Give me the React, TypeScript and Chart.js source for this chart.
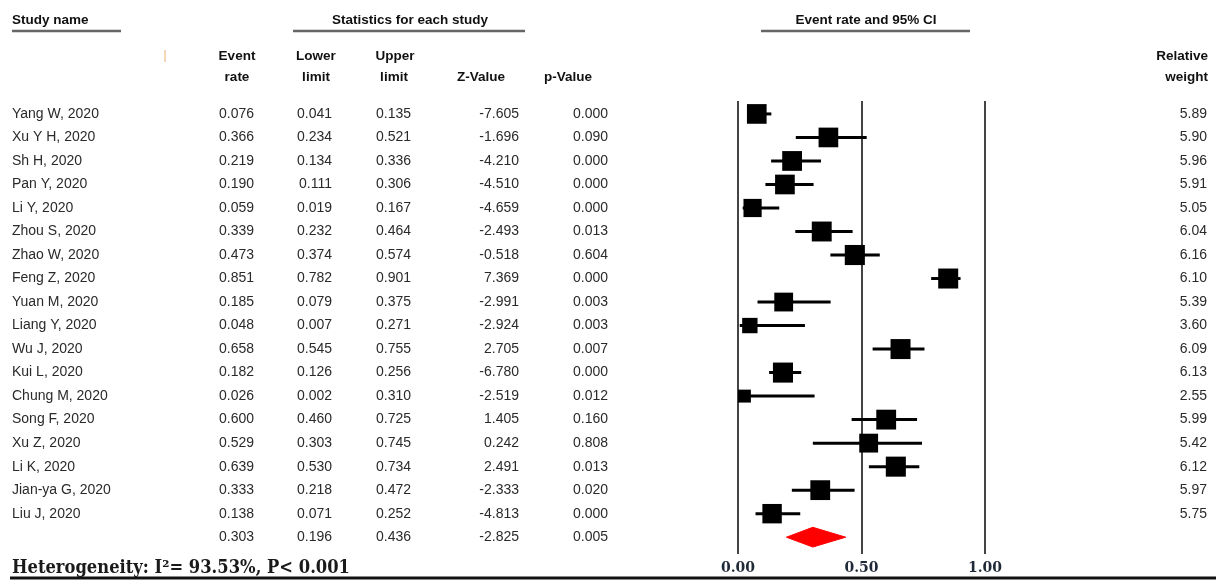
import React, { useEffect, useRef } from "react";
import { Chart, registerables } from "chart.js";

Chart.register(...registerables);

const studies = [
  "Yang W, 2020", "Xu Y H, 2020", "Sh H, 2020", "Pan Y, 2020", "Li Y, 2020", "Zhou S, 2020",
  "Zhao W, 2020", "Feng Z, 2020", "Yuan M, 2020", "Liang Y, 2020", "Wu J, 2020", "Kui L, 2020",
  "Chung M, 2020", "Song F, 2020", "Xu Z, 2020", "Li K, 2020", "Jian-ya G, 2020", "Liu J, 2020",
];
const eventRate = [0.076, 0.366, 0.219, 0.190, 0.059, 0.339, 0.473, 0.851, 0.185, 0.048, 0.658, 0.182, 0.026, 0.600, 0.529, 0.639, 0.333, 0.138];
const lowerLimit = [0.041, 0.234, 0.134, 0.111, 0.019, 0.232, 0.374, 0.782, 0.079, 0.007, 0.545, 0.126, 0.002, 0.460, 0.303, 0.530, 0.218, 0.071];
const upperLimit = [0.135, 0.521, 0.336, 0.306, 0.167, 0.464, 0.574, 0.901, 0.375, 0.271, 0.755, 0.256, 0.310, 0.725, 0.745, 0.734, 0.472, 0.252];
const zValue = [-7.605, -1.696, -4.210, -4.510, -4.659, -2.493, -0.518, 7.369, -2.991, -2.924, 2.705, -6.780, -2.519, 1.405, 0.242, 2.491, -2.333, -4.813];
const pValue = [0.000, 0.090, 0.000, 0.000, 0.000, 0.013, 0.604, 0.000, 0.003, 0.003, 0.007, 0.000, 0.012, 0.160, 0.808, 0.013, 0.020, 0.000];
const relWeight = [5.89, 5.90, 5.96, 5.91, 5.05, 6.04, 6.16, 6.10, 5.39, 3.60, 6.09, 6.13, 2.55, 5.99, 5.42, 6.12, 5.97, 5.75];

const pooledRate = 0.303;
const pooledLower = 0.196;
const pooledUpper = 0.436;
const pooledZ = -2.825;
const pooledP = 0.005;

const xTicks = [0, 0.5, 1];
const heterogeneityText = "Heterogeneity: I\u00B2= 93.53%, P< 0.001";

const TEXT = "#2a2a2a";
const SANS = "'Liberation Sans', Arial, sans-serif";

function fmt(v: number, d: number) {
  return v.toFixed(d);
}

const tablePlugin = {
  id: "tablePlugin",
  afterDraw(chart: any) {
    const ctx: CanvasRenderingContext2D = chart.ctx;
    const y = chart.scales.y;
    ctx.save();
    ctx.textBaseline = "middle";

    const txt = (s: string, x: number, yy: number, align: CanvasTextAlign, font: string, color = TEXT, maxW?: number) => {
      ctx.font = font;
      ctx.fillStyle = color;
      ctx.textAlign = align;
      if (maxW) ctx.fillText(s, x, yy, maxW);
      else ctx.fillText(s, x, yy);
    };

    const bold = `bold 13.5px ${SANS}`;
    const reg = `14px ${SANS}`;

    // top headers
    txt("Study name", 12, 20, "left", bold, "#111");
    txt("Statistics for each study", 410, 20, "center", bold, "#111");
    txt("Event rate and 95% CI", 866, 20, "center", bold, "#111");
    ctx.strokeStyle = "#666";
    ctx.lineWidth = 2.5;
    const ul = (a: number, b: number) => {
      ctx.beginPath();
      ctx.moveTo(a, 31);
      ctx.lineTo(b, 31);
      ctx.stroke();
    };
    ul(12, 121);
    ul(293, 525);
    ul(761, 970);

    // small orange mark
    ctx.strokeStyle = "#f2c9a0";
    ctx.lineWidth = 1.5;
    ctx.beginPath();
    ctx.moveTo(165, 50);
    ctx.lineTo(165, 62);
    ctx.stroke();

    // column headers
    const h1 = 56;
    const h2 = 77;
    txt("Event", 237, h1, "center", bold, "#111");
    txt("rate", 237, h2, "center", bold, "#111");
    txt("Lower", 316, h1, "center", bold, "#111");
    txt("limit", 316, h2, "center", bold, "#111");
    txt("Upper", 395, h1, "center", bold, "#111");
    txt("limit", 394, h2, "center", bold, "#111");
    txt("Z-Value", 481, h2, "center", bold, "#111");
    txt("p-Value", 568, h2, "center", bold, "#111");
    txt("Relative", 1208, h1, "right", bold, "#111");
    txt("weight", 1208, h2, "right", bold, "#111");

    // rows
    studies.forEach((s, i) => {
      const py = y.getPixelForValue(i);
      txt(s, 12, py, "left", reg);
      txt(fmt(eventRate[i], 3), 254, py, "right", reg);
      txt(fmt(lowerLimit[i], 3), 332, py, "right", reg);
      txt(fmt(upperLimit[i], 3), 411, py, "right", reg);
      txt(fmt(zValue[i], 3), 519, py, "right", reg);
      txt(fmt(pValue[i], 3), 608, py, "right", reg);
      txt(fmt(relWeight[i], 2), 1207, py, "right", reg);
    });
    const sy = y.getPixelForValue(studies.length);
    txt(fmt(pooledRate, 3), 254, sy, "right", reg);
    txt(fmt(pooledLower, 3), 332, sy, "right", reg);
    txt(fmt(pooledUpper, 3), 411, sy, "right", reg);
    txt(fmt(pooledZ, 3), 519, sy, "right", reg);
    txt(fmt(pooledP, 3), 608, sy, "right", reg);

    // heterogeneity
    ctx.textBaseline = "alphabetic";
    txt(heterogeneityText, 12, 573, "left", `bold 18px 'DejaVu Serif', 'Liberation Serif', serif`, "#1a1a1a", 338);

    // bottom rule
    ctx.strokeStyle = "#111";
    ctx.lineWidth = 3;
    ctx.beginPath();
    ctx.moveTo(10, 578);
    ctx.lineTo(1216, 578);
    ctx.stroke();
    ctx.restore();
  },
};

export default function App() {
  const ref = useRef<HTMLCanvasElement | null>(null);

  useEffect(() => {
    if (!ref.current) return;
    const n = studies.length;
    const ciSets = studies.map((s, i) => ({
      type: "line" as const,
      label: s,
      data: [
        { x: lowerLimit[i], y: i },
        { x: upperLimit[i], y: i },
      ],
      borderColor: "#000",
      borderWidth: 3,
      pointRadius: 0,
      showLine: true,
      fill: false,
      clip: false as any,
    }));
    const boxSet = {
      type: "scatter" as const,
      label: "boxes",
      data: eventRate.map((v, i) => ({ x: v, y: i })),
      pointStyle: "rect" as const,
      pointRadius: relWeight.map((w) => (8.1 * Math.sqrt(w)) / Math.SQRT2),
      backgroundColor: "#000",
      borderColor: "#000",
      borderWidth: 0,
      clip: false as any,
    };
    const dh = 0.42;
    const diamond = {
      type: "line" as const,
      label: "pooled",
      data: [
        { x: pooledLower, y: n },
        { x: pooledRate, y: n - dh },
        { x: pooledUpper, y: n },
        { x: pooledRate, y: n + dh },
        { x: pooledLower, y: n },
      ],
      borderColor: "#ff0000",
      backgroundColor: "#ff0000",
      borderWidth: 1,
      pointRadius: 0,
      showLine: true,
      fill: "shape" as any,
      tension: 0,
      clip: false as any,
    };

    const chart = new Chart(ref.current, {
      type: "scatter",
      data: { datasets: [...ciSets, boxSet, diamond] as any },
      options: {
        animation: false,
        responsive: true,
        maintainAspectRatio: false,
        layout: { padding: { left: 738, right: 235, top: 101, bottom: 0 } },
        plugins: { legend: { display: false }, tooltip: { enabled: false }, title: { display: false } },
        scales: {
          x: {
            type: "linear",
            min: 0,
            max: 1,
            afterBuildTicks: (scale: any) => {
              scale.ticks = xTicks.map((v) => ({ value: v }));
            },
            afterFit: (scale: any) => {
              scale.height = 32;
            },
            ticks: {
              callback: (v: any) => Number(v).toFixed(2),
              font: { family: "'DejaVu Serif', serif", size: 14, weight: "bold" },
              color: "#1f2937",
              padding: 6,
              maxRotation: 0,
            },
            grid: { color: "#444", lineWidth: 2, tickLength: 6, drawOnChartArea: true },
            border: { display: false },
          },
          y: {
            type: "linear",
            min: -0.55,
            max: 18.46,
            reverse: true,
            display: false,
          },
        },
      },
      plugins: [tablePlugin],
    });
    return () => chart.destroy();
  }, []);

  return (
    <div style={{ position: "absolute", left: 0, top: 0, width: 1220, height: 580, background: "#fff" }}>
      <canvas ref={ref} />
    </div>
  );
}
